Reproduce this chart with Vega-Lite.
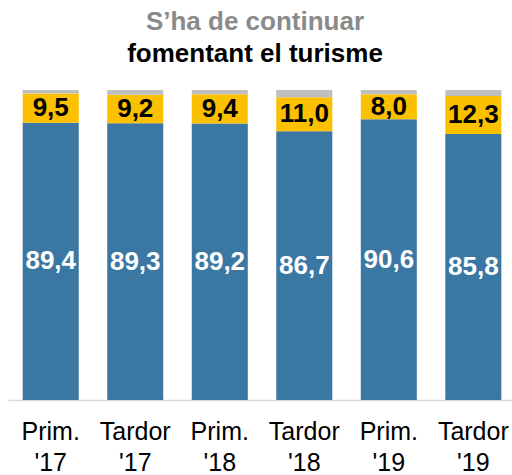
{
  "$schema": "https://vega.github.io/schema/vega-lite/v6.json",
  "width": 504,
  "height": 310,
  "autosize": "none",
  "padding": {"left": 8, "top": 90, "right": 0, "bottom": 75},
  "background": "white",
  "config": {
    "view": {"stroke": null},
    "font": "Liberation Sans",
    "locale": {"number": {"decimal": ",", "thousands": ".", "grouping": [3], "currency": ["", " €"]}}
  },
  "title": {
    "text": "S’ha de continuar",
    "subtitle": "fomentant el turisme",
    "anchor": "middle",
    "font": "Liberation Sans",
    "fontSize": 26,
    "fontWeight": "bold",
    "color": "#8a8a8a",
    "subtitleFont": "Liberation Sans",
    "subtitleFontSize": 26,
    "subtitleFontWeight": "bold",
    "subtitleColor": "#000000",
    "subtitlePadding": 6,
    "offset": 23,
    "dx": -5
  },
  "data": {
    "values": [
      {"period": "Prim. '17", "segment": "blue", "value": 89.4, "ord": 1},
      {"period": "Prim. '17", "segment": "yellow", "value": 9.5, "ord": 2},
      {"period": "Prim. '17", "segment": "gray", "value": 1.1, "ord": 3},
      {"period": "Tardor '17", "segment": "blue", "value": 89.3, "ord": 1},
      {"period": "Tardor '17", "segment": "yellow", "value": 9.2, "ord": 2},
      {"period": "Tardor '17", "segment": "gray", "value": 1.5, "ord": 3},
      {"period": "Prim. '18", "segment": "blue", "value": 89.2, "ord": 1},
      {"period": "Prim. '18", "segment": "yellow", "value": 9.4, "ord": 2},
      {"period": "Prim. '18", "segment": "gray", "value": 1.4, "ord": 3},
      {"period": "Tardor '18", "segment": "blue", "value": 86.7, "ord": 1},
      {"period": "Tardor '18", "segment": "yellow", "value": 11.0, "ord": 2},
      {"period": "Tardor '18", "segment": "gray", "value": 2.3, "ord": 3},
      {"period": "Prim. '19", "segment": "blue", "value": 90.6, "ord": 1},
      {"period": "Prim. '19", "segment": "yellow", "value": 8.0, "ord": 2},
      {"period": "Prim. '19", "segment": "gray", "value": 1.4, "ord": 3},
      {"period": "Tardor '19", "segment": "blue", "value": 85.8, "ord": 1},
      {"period": "Tardor '19", "segment": "yellow", "value": 12.3, "ord": 2},
      {"period": "Tardor '19", "segment": "gray", "value": 1.9, "ord": 3}
    ]
  },
  "encoding": {
    "x": {
      "field": "period",
      "type": "nominal",
      "sort": null,
      "scale": {"paddingInner": 0.337, "paddingOuter": 0.15, "align": 0.58},
      "axis": {
        "title": null,
        "labelAngle": 0,
        "labelFont": "Liberation Sans",
        "labelFontSize": 25,
        "labelColor": "#000000",
        "labelExpr": "split(datum.label, ' ')",
        "labelLineHeight": 31,
        "labelPadding": 19,
        "labelOverlap": false,
        "labelBound": false,
        "labelFlush": false,
        "labelLimit": 0,
        "ticks": false,
        "domainColor": "#d9d9d9",
        "domainWidth": 1.5
      }
    }
  },
  "layer": [
    {
      "mark": {"type": "bar"},
      "encoding": {
        "y": {"field": "value", "type": "quantitative", "stack": "zero", "scale": {"domain": [0, 100], "nice": false, "zero": true}, "axis": null},
        "color": {
          "field": "segment",
          "type": "nominal",
          "scale": {"domain": ["blue", "yellow", "gray"], "range": ["#3b77a3", "#fbc100", "#bfbfbf"]},
          "legend": null
        },
        "order": {"field": "ord", "type": "quantitative"}
      }
    },
    {
      "transform": [
        {"stack": "value", "groupby": ["period"], "sort": [{"field": "ord", "order": "ascending"}], "as": ["v0", "v1"]},
        {"calculate": "(datum.v0 + datum.v1) / 2", "as": "mid"},
        {"filter": "datum.segment !== 'gray'"}
      ],
      "mark": {"type": "text", "font": "Liberation Sans", "fontSize": 26, "fontWeight": "bold", "baseline": "middle", "align": "center"},
      "encoding": {
        "y": {"field": "mid", "type": "quantitative", "scale": {"domain": [0, 100], "nice": false}, "axis": null},
        "text": {"field": "value", "type": "quantitative", "format": ".1f"},
        "color": {"condition": {"test": "datum.segment === 'blue'", "value": "#ffffff"}, "value": "#000000"}
      }
    }
  ]
}
